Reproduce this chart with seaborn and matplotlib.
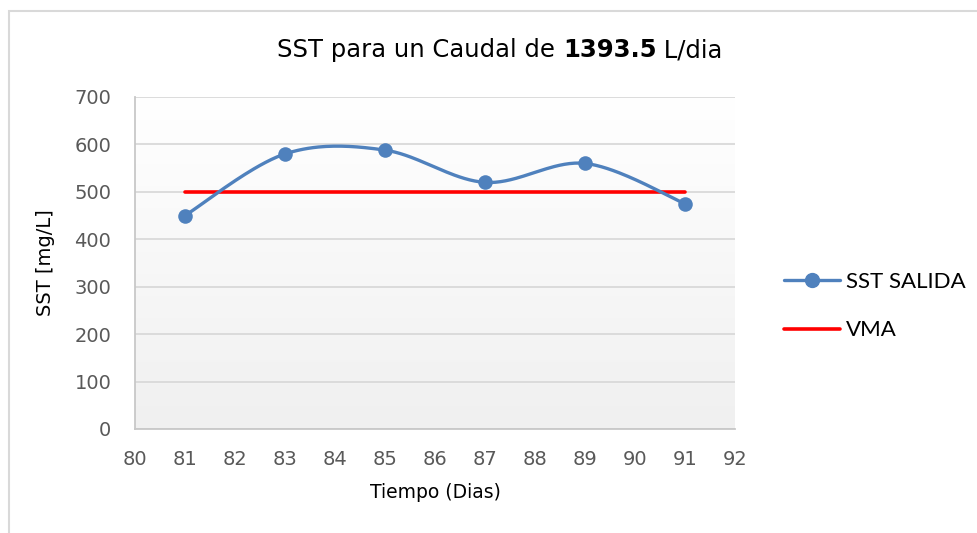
import numpy as np
import pandas as pd
import matplotlib
matplotlib.use("Agg")
import matplotlib.pyplot as plt
from matplotlib.lines import Line2D
from matplotlib.patches import Rectangle
import seaborn as sns

# data
dias = [81, 83, 85, 87, 89, 91]
sst_salida = [450, 580, 588, 520, 560, 475]
vma_dias = [81, 91]
vma = [500, 500]

BLUE = "#4F81BD"
RED = "#FF0000"
GREY_TXT = "#595959"


#Excel style smoothed line (bezier through the points, catmull-rom control points)
def smooth_curve(x, y, n=40):
    pts = np.column_stack([x, y]).astype(float)
    out = []
    for i in range(len(pts) - 1):
        p0 = pts[i - 1] if i > 0 else pts[i]
        p1 = pts[i]
        p2 = pts[i + 1]
        p3 = pts[i + 2] if i + 2 < len(pts) else pts[i + 1]
        c1 = p1 + (p2 - p0) / 6
        c2 = p2 - (p3 - p1) / 6
        t = np.linspace(0, 1, n)[:, None]
        seg = (1 - t) ** 3 * p1 + 3 * (1 - t) ** 2 * t * c1 + 3 * (1 - t) * t ** 2 * c2 + t ** 3 * p2
        out.append(seg if i == 0 else seg[1:])
    seg = np.vstack(out)
    return pd.DataFrame({"x": seg[:, 0], "y": seg[:, 1]})


sns.set_style("white")
plt.rcParams["font.family"] = ["DejaVu Sans"]

fig = plt.figure(figsize=(9.78, 5.33), dpi=100)
ax = fig.add_axes([135 / 978, 1 - 429 / 533, 600 / 978, 332 / 533])

# gradient plot area background
grad = np.linspace(0, 1, 256)[:, None]
ax.imshow(grad, extent=[0, 1, 0, 1], transform=ax.transAxes, aspect="auto",
          cmap=matplotlib.colors.LinearSegmentedColormap.from_list("bg", ["#FFFFFF", "#F0F0F0"]),
          origin="upper", zorder=0)

curve = smooth_curve(dias, sst_salida)
sns.lineplot(data=curve, x="x", y="y", sort=False, color=BLUE, linewidth=2.4, ax=ax, zorder=3)
sns.scatterplot(x=dias, y=sst_salida, color=BLUE, s=110, edgecolor=BLUE, linewidth=0, ax=ax, zorder=4)
sns.lineplot(x=vma_dias, y=vma, color=RED, linewidth=2.6, ax=ax, zorder=2)

ax.set_xlim(80, 92)
ax.set_ylim(0, 700)
ax.set_xticks(range(80, 93))
ax.set_yticks(range(0, 701, 100))
ax.yaxis.grid(True, color="#D9D9D9", linewidth=1.3)
ax.set_axisbelow(True)
for side in ["top", "right"]:
    ax.spines[side].set_visible(False)
for side in ["left", "bottom"]:
    ax.spines[side].set_color("#C8C8C8")
    ax.spines[side].set_linewidth(1.3)
ax.tick_params(axis="both", length=0, labelsize=14, colors=GREY_TXT)
ax.tick_params(axis="x", pad=15)
ax.tick_params(axis="y", pad=17)
ax.set_xlabel("Tiempo (Dias)", fontsize=13.5, color="black", labelpad=10)
ax.set_ylabel("SST [mg/L]", fontsize=14, color="black", labelpad=14)

# legend
handles = [Line2D([0], [0], color=BLUE, lw=2.4, marker="o", markersize=10),
           Line2D([0], [0], color=RED, lw=2.6)]
fig.legend(handles, ["SST SALIDA", "VMA"], loc="center left", bbox_to_anchor=(764 / 978, 1 - 306 / 533),
           frameon=False, prop={"family": "Lato", "size": 16}, handlelength=2.5,
           handletextpad=0.3, labelspacing=1.3, labelcolor="black")

# title with bold number
parts = [("SST para un Caudal de ", "normal"), ("1393.5", "bold"), (" L/dia", "normal")]
fig.canvas.draw()
renderer = fig.canvas.get_renderer()
texts = []
for s, w in parts:
    t = fig.text(0, 1 - 50 / 533, s, fontsize=17.5, fontweight=w, va="center", ha="left", color="black")
    texts.append(t)
widths = [t.get_window_extent(renderer).width for t in texts]
x0 = 500 - sum(widths) / 2
for t, w in zip(texts, widths):
    t.set_x(x0 / 978)
    x0 += w

# outer chart border
fig.patches.append(Rectangle((9 / 978, -0.05), 1.1, 1 - 11 / 533 + 0.05, transform=fig.transFigure,
                             fill=False, edgecolor="#D9D9D9", linewidth=1.5))

fig.savefig("out.png", dpi=100)
